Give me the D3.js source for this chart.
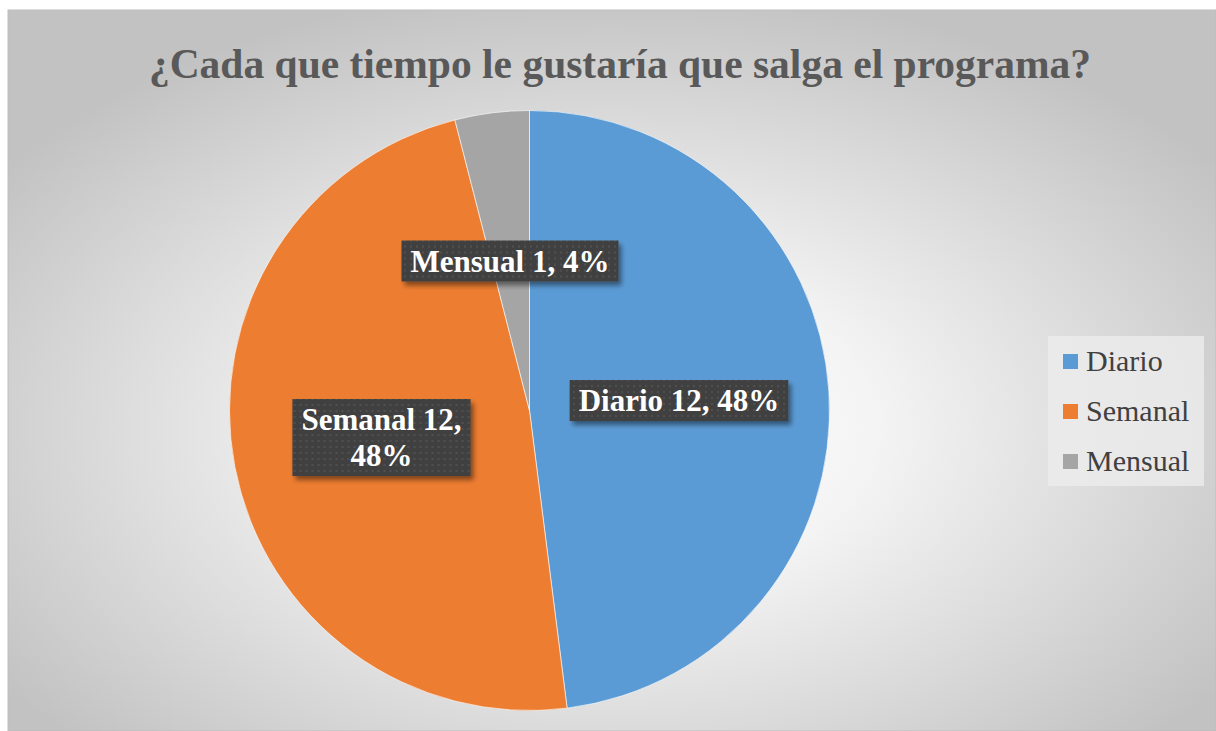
<!DOCTYPE html>
<html>
<head>
<meta charset="utf-8">
<script src="https://cdn.jsdelivr.net/npm/d3@7"></script>
<style>
  body { margin: 0; background: #fff; }
  svg { display: block; }
</style>
</head>
<body>
<svg id="chart" width="1216" height="731"></svg>
<script>
const titleText = "¿Cada que tiempo le gustaría que salga el programa?";
const categories = ["Diario", "Semanal", "Mensual"];
const counts = [12, 12, 1];
const percents = ["48%", "48%", "4%"];
const colors = ["#5b9bd5", "#ed7d31", "#a5a5a5"];

const svg = d3.select("#chart");
const defs = svg.append("defs");

// chart area background
const grad = defs.append("radialGradient").attr("id", "bg")
  .attr("cx", "50%").attr("cy", "58%").attr("r", "62%");
grad.append("stop").attr("offset", "0%").attr("stop-color", "#ffffff");
grad.append("stop").attr("offset", "35%").attr("stop-color", "#f4f4f4");
grad.append("stop").attr("offset", "100%").attr("stop-color", "#c2c2c2");

const pat = defs.append("pattern").attr("id", "dots")
  .attr("width", 6).attr("height", 6).attr("patternUnits", "userSpaceOnUse");
pat.append("rect").attr("width", 6).attr("height", 6).attr("fill", "#3f3f3f");
pat.append("rect").attr("x", 2).attr("y", 2).attr("width", 2).attr("height", 2).attr("fill", "#505050");

const shadow = defs.append("filter").attr("id", "shadow")
  .attr("x", "-20%").attr("y", "-20%").attr("width", "150%").attr("height", "160%");
shadow.append("feDropShadow").attr("dx", 3).attr("dy", 4).attr("stdDeviation", 2.5)
  .attr("flood-color", "#000").attr("flood-opacity", 0.45);

svg.append("rect").attr("x", 8).attr("y", 10).attr("width", 1216 - 8).attr("height", 731 - 10)
  .attr("fill", "url(#bg)").attr("stroke", "#bdbdbd").attr("stroke-width", 1);

svg.append("text")
  .attr("x", 620).attr("y", 78)
  .attr("text-anchor", "middle")
  .style("font-family", "'Liberation Serif', 'Times New Roman', serif")
  .style("font-weight", "bold")
  .style("font-size", "41.5px")
  .attr("fill", "#595959")
  .text(titleText);

// pie
const cx = 529.5, cy = 410.5, radius = 300;
const pieData = categories.map((c, i) => ({ name: c, value: counts[i], pct: percents[i], color: colors[i] }));
const pie = d3.pie().value(d => d.value).sort(null);
const arcs = pie(pieData);
const arc = d3.arc().innerRadius(0).outerRadius(radius);

const g = svg.append("g").attr("transform", `translate(${cx},${cy})`);
g.selectAll("path").data(arcs).enter().append("path")
  .attr("d", arc)
  .attr("fill", d => d.data.color)
  .attr("stroke", "#fff").attr("stroke-width", 0.6);

// data labels (box centres relative to pie centre)
const labelPos = [
  { x: 149.5, y: -9.5, lines: [`${categories[0]} ${counts[0]}, ${percents[0]}`] },
  { x: -148, y: 27.5, lines: [`${categories[1]} ${counts[1]},`, percents[1]] },
  { x: -19.5, y: -149, lines: [`${categories[2]} ${counts[2]}, ${percents[2]}`] }
];
const lineH = 36;
labelPos.forEach(lp => {
  const lg = g.append("g").attr("transform", `translate(${lp.x},${lp.y})`);
  const txt = lg.append("text")
    .attr("text-anchor", "middle")
    .style("font-family", "'Liberation Serif', 'Times New Roman', serif")
    .style("font-weight", "bold")
    .style("font-size", "31px")
    .attr("fill", "#fff");
  lp.lines.forEach((l, i) => {
    txt.append("tspan").attr("x", 0)
      .attr("y", (i - (lp.lines.length - 1) / 2) * lineH + 10)
      .text(l);
  });
  const bb = txt.node().getBBox();
  lg.insert("rect", "text")
    .attr("x", bb.x - 9).attr("y", bb.y - 3)
    .attr("width", bb.width + 18).attr("height", bb.height + 6)
    .attr("fill", "url(#dots)")
    .attr("filter", "url(#shadow)");
});

// legend
const legend = svg.append("g").attr("transform", "translate(1048,336)");
legend.append("rect").attr("width", 156).attr("height", 150).attr("fill", "#ececec").attr("opacity", 0.8);
const legY = d3.scalePoint().domain(categories).range([25, 125]);
categories.forEach((c, i) => {
  legend.append("rect").attr("x", 15).attr("y", legY(c) - 7).attr("width", 15).attr("height", 15).attr("fill", colors[i]);
  legend.append("text").attr("x", 38).attr("y", legY(c) + 10)
    .style("font-family", "'Liberation Serif', 'Times New Roman', serif")
    .style("font-size", "30px")
    .attr("fill", "#404040")
    .text(c);
});
</script>
</body>
</html>
